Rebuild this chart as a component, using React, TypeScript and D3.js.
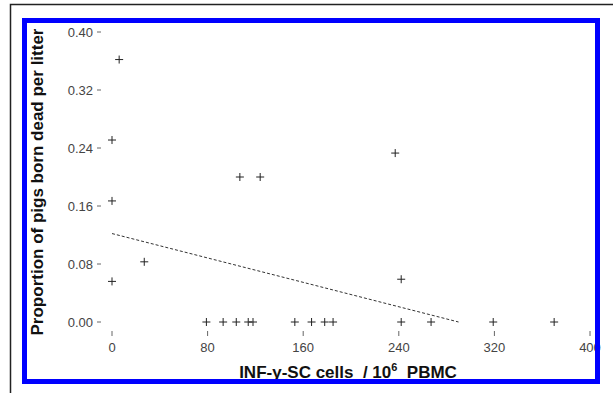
import React, { useRef, useEffect } from 'react';
import * as d3 from 'd3';

// INF-gamma-SC cells per 10^6 PBMC vs proportion born dead
const cellsX = [6, 0, 0, 0, 27, 107, 124, 237, 242, 79, 93, 104, 114, 118, 153, 167, 178, 185, 242, 267, 319, 370];
const bornDeadY = [0.362, 0.251, 0.167, 0.056, 0.083, 0.2, 0.2, 0.233, 0.059, 0, 0, 0, 0, 0, 0, 0, 0, 0, 0, 0, 0, 0];

// fitted line end points
const fitX = [0, 290];
const fitY = [0.122, 0];

const xTicks = [0, 80, 160, 240, 320, 400];
const xTickLabels = ['0', '80', '160', '240', '320', '400'];
const yTicks = [0, 0.08, 0.16, 0.24, 0.32, 0.4];
const yTickLabels = ['0.00', '0.08', '0.16', '0.24', '0.32', '0.40'];

const W = 613;
const H = 393;

const App = () => {
  const ref = useRef<SVGSVGElement>(null);

  useEffect(() => {
    const svg = d3.select(ref.current);
    svg.selectAll('*').remove();

    const x = d3.scaleLinear().domain([0, 400]).range([112, 590]);
    const y = d3.scaleLinear().domain([0, 0.4]).range([322, 32]);

    svg.append('rect').attr('width', W).attr('height', H).attr('fill', '#fff');

    // outer page frame (top + left only)
    svg.append('path')
      .attr('d', `M10.5,${H} V4.5 H${W}`)
      .attr('fill', 'none')
      .attr('stroke', '#222')
      .attr('stroke-width', 1.5);

    // y ticks
    const yg = svg.append('g').attr('font-family', 'Liberation Sans, Arial, sans-serif')
      .attr('font-size', 13).attr('fill', '#444');
    yTicks.forEach((t, i) => {
      yg.append('text')
        .attr('x', 93)
        .attr('y', y(t))
        .attr('dy', '0.42em')
        .attr('text-anchor', 'end')
        .text(yTickLabels[i]);
      yg.append('line')
        .attr('x1', 97).attr('x2', 101)
        .attr('y1', y(t)).attr('y2', y(t))
        .attr('stroke', '#666');
    });

    // x ticks
    const xg = svg.append('g').attr('font-family', 'Liberation Sans, Arial, sans-serif')
      .attr('font-size', 13).attr('fill', '#444');
    xTicks.forEach((t, i) => {
      xg.append('line')
        .attr('x1', x(t)).attr('x2', x(t))
        .attr('y1', 331).attr('y2', 336)
        .attr('stroke', '#666');
      xg.append('text')
        .attr('x', x(t))
        .attr('y', 347)
        .attr('dy', '0.35em')
        .attr('text-anchor', 'middle')
        .text(xTickLabels[i]);
    });

    // regression line
    const line = d3.line<number>()
      .x((d) => x(d))
      .y((_, i) => y(fitY[i]));
    svg.append('path')
      .attr('d', line(fitX))
      .attr('fill', 'none')
      .attr('stroke', '#333')
      .attr('stroke-width', 1)
      .attr('stroke-dasharray', '3,2');

    // + markers
    const s = 4;
    cellsX.forEach((cx, i) => {
      const px = x(cx);
      const py = y(bornDeadY[i]);
      svg.append('path')
        .attr('d', `M${px - s},${py} H${px + s} M${px},${py - s} V${py + s}`)
        .attr('stroke', '#222')
        .attr('stroke-width', 1)
        .attr('fill', 'none');
    });

    // axis titles
    svg.append('text')
      .attr('transform', 'translate(43,182) rotate(-90)')
      .attr('text-anchor', 'middle')
      .attr('font-family', 'Liberation Sans, Arial, sans-serif')
      .attr('font-weight', 'bold')
      .attr('font-size', 17)
      .attr('fill', '#111')
      .text('Proportion of pigs born dead per litter');

    const xt = svg.append('text')
      .attr('x', 348)
      .attr('y', 378)
      .attr('text-anchor', 'middle')
      .attr('font-family', 'Liberation Sans, Arial, sans-serif')
      .attr('font-weight', 'bold')
      .attr('font-size', 17)
      .attr('fill', '#111')
      .style('white-space', 'pre');
    xt.append('tspan').text('INF-γ-SC cells  / 10');
    xt.append('tspan').attr('dy', -7).attr('font-size', 11).text('6');
    xt.append('tspan').attr('dy', 7).text('  PBMC');

    // blue frame
    svg.append('rect')
      .attr('x', 24.5).attr('y', 20.5)
      .attr('width', 573).attr('height', 361)
      .attr('fill', 'none')
      .attr('stroke', '#0000ff')
      .attr('stroke-width', 5);
  }, []);

  return (
    <svg
      ref={ref}
      width={W}
      height={H}
      style={{ position: 'absolute', left: 0, top: 0, display: 'block' }}
    />
  );
};

export default App;
